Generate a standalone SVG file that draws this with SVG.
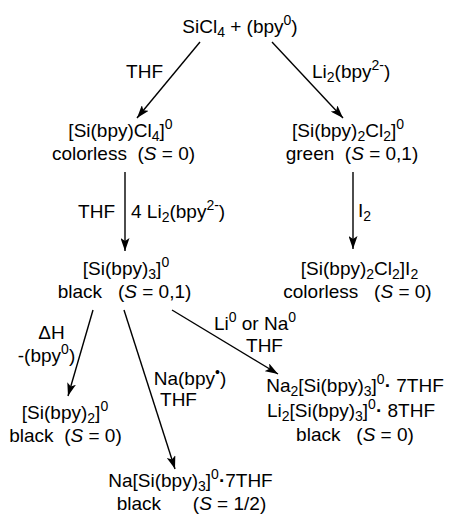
<svg xmlns="http://www.w3.org/2000/svg" width="452" height="520" viewBox="0 0 452 520">
<defs>
<style>
text{font-family:"Liberation Sans",Arial,sans-serif;font-size:19px;fill:#000;white-space:pre}
.m{text-anchor:middle}
.e{text-anchor:end}
.s{font-size:14px}
.i{font-style:italic}
.c line{stroke:#000;stroke-width:1.4;marker-end:url(#ah)}
</style>
<marker id="ah" markerUnits="userSpaceOnUse" markerWidth="14" markerHeight="9" refX="13" refY="4.5" orient="auto">
<path d="M0,0 L13,4.5 L0,9 L3,4.5 z" fill="#000"/>
</marker>
</defs>
<rect width="452" height="520" fill="#fff"/>
<g class="c" id="connectors">
<line x1="200" y1="42" x2="137" y2="118"/>
<line x1="272" y1="42" x2="343" y2="118"/>
<line x1="125" y1="172" x2="125" y2="251"/>
<line x1="353" y1="172" x2="353" y2="249"/>
<line x1="93" y1="310" x2="68" y2="396"/>
<line x1="124" y1="310" x2="175" y2="469"/>
<line x1="172" y1="310" x2="278" y2="374"/>
</g>
<g id="labels">
<text class="e" x="163" y="78">THF</text>
<text x="312" y="78">Li<tspan class="s" dy="4">2</tspan><tspan dy="-4">(bpy</tspan><tspan class="s" dy="-8">2-</tspan><tspan dy="8">)</tspan></text>
<text class="e" x="115" y="218">THF</text>
<text x="131" y="218">4 Li<tspan class="s" dy="4">2</tspan><tspan dy="-4">(bpy</tspan><tspan class="s" dy="-8">2-</tspan><tspan dy="8">)</tspan></text>
<text x="358" y="217">I<tspan class="s" dy="4">2</tspan></text>
<text class="m" x="51.5" y="339">ΔH</text>
<text class="m" x="46.5" y="362">-(bpy<tspan class="s" dy="-8">0</tspan><tspan dy="8">)</tspan></text>
<text class="m" x="255" y="330">Li<tspan class="s" dy="-8">0</tspan><tspan dy="8"> or Na</tspan><tspan class="s" dy="-8">0</tspan></text>
<text class="m" x="264.5" y="352">THF</text>
<text class="m" x="190" y="385">Na(bpy<tspan class="s" dy="-8">•</tspan><tspan dy="8">)</tspan></text>
<text class="m" x="178.5" y="406">THF</text>
</g>
<g id="n-start">
<text class="m" x="240" y="33">SiCl<tspan class="s" dy="4">4</tspan><tspan dy="-4"> + (bpy</tspan><tspan class="s" dy="-8">0</tspan><tspan dy="8">)</tspan></text>
</g>
<g id="n-sibpycl4">
<text class="m" x="120.5" y="137">[Si(bpy)Cl<tspan class="s" dy="4">4</tspan><tspan dy="-4">]</tspan><tspan class="s" dy="-8">0</tspan></text>
<text class="m" x="123.5" y="160">colorless  (<tspan class="i">S</tspan> = 0)</text>
</g>
<g id="n-sibpy2cl2">
<text class="m" x="348" y="137">[Si(bpy)<tspan class="s" dy="4">2</tspan><tspan dy="-4">Cl</tspan><tspan class="s" dy="4">2</tspan><tspan dy="-4">]</tspan><tspan class="s" dy="-8">0</tspan></text>
<text class="m" x="352" y="160">green  (<tspan class="i">S</tspan> = 0,1)</text>
</g>
<g id="n-sibpy3">
<text class="m" x="126" y="275">[Si(bpy)<tspan class="s" dy="4">3</tspan><tspan dy="-4">]</tspan><tspan class="s" dy="-8">0</tspan></text>
<text class="m" x="124.5" y="298">black   (<tspan class="i">S</tspan> = 0,1)</text>
</g>
<g id="n-sibpy2cl2i2">
<text class="m" x="359.5" y="275">[Si(bpy)<tspan class="s" dy="4">2</tspan><tspan dy="-4">Cl</tspan><tspan class="s" dy="4">2</tspan><tspan dy="-4">]I</tspan><tspan class="s" dy="4">2</tspan></text>
<text class="m" x="357.5" y="298">colorless   (<tspan class="i">S</tspan> = 0)</text>
</g>
<g id="n-sibpy2">
<text class="m" x="65" y="419">[Si(bpy)<tspan class="s" dy="4">2</tspan><tspan dy="-4">]</tspan><tspan class="s" dy="-8">0</tspan></text>
<text class="m" x="65.5" y="442">black  (<tspan class="i">S</tspan> = 0)</text>
</g>
<g id="n-na2li2">
<text class="m" x="355" y="392">Na<tspan class="s" dy="4">2</tspan><tspan dy="-4">[Si(bpy)</tspan><tspan class="s" dy="4">3</tspan><tspan dy="-4">]</tspan><tspan class="s" dy="-8">0</tspan><tspan dy="8" font-weight="bold">·</tspan> 7THF</text>
<text class="m" x="351" y="417">Li<tspan class="s" dy="4">2</tspan><tspan dy="-4">[Si(bpy)</tspan><tspan class="s" dy="4">3</tspan><tspan dy="-4">]</tspan><tspan class="s" dy="-8">0</tspan><tspan dy="8" font-weight="bold">·</tspan> 8THF</text>
<text class="m" x="355" y="441">black   (<tspan class="i">S</tspan> = 0)</text>
</g>
<g id="n-na">
<text class="m" x="190.5" y="487">Na[Si(bpy)<tspan class="s" dy="4">3</tspan><tspan dy="-4">]</tspan><tspan class="s" dy="-8">0</tspan><tspan dy="8" font-weight="bold">·</tspan>7THF</text>
<text class="m" x="191.5" y="510">black      (<tspan class="i">S</tspan> = 1/2)</text>
</g>
</svg>
